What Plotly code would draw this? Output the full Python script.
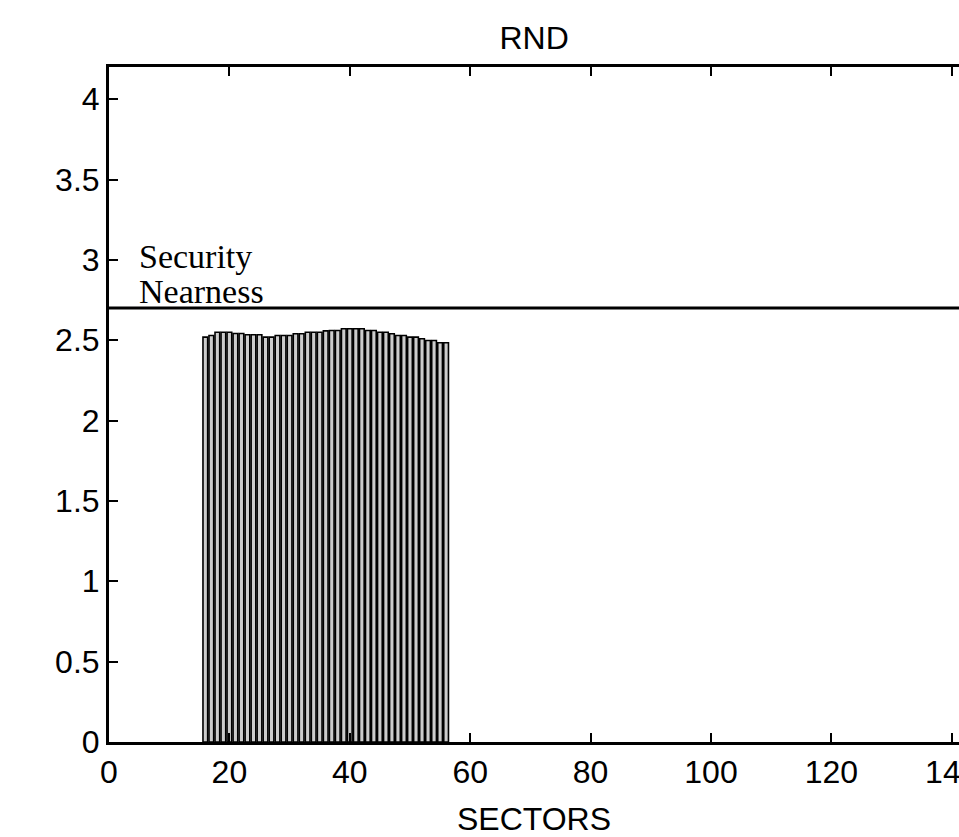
import plotly.graph_objects as go

sectors = list(range(16, 57))
nearness = [2.519, 2.529, 2.550, 2.550, 2.550, 2.542, 2.542, 2.534, 2.534, 2.534,
            2.519, 2.519, 2.529, 2.529, 2.529, 2.540, 2.540, 2.550, 2.550, 2.550,
            2.558, 2.560, 2.560, 2.571, 2.571, 2.571, 2.571, 2.560, 2.560, 2.550,
            2.550, 2.540, 2.529, 2.529, 2.519, 2.519, 2.509, 2.498, 2.498, 2.484,
            2.484]
security_level = 2.7
x_ticks = [0, 20, 40, 60, 80, 100, 120, 140]
y_ticks = [0, 0.5, 1, 1.5, 2, 2.5, 3, 3.5, 4]

fig = go.Figure()
fig.add_trace(go.Bar(
    x=sectors, y=nearness,
    marker=dict(color="#cccccc", line=dict(color="black", width=1.6)),
    width=0.78,
))

fig.add_shape(type="line", xref="x", yref="y", x0=0, x1=141.2,
              y0=security_level, y1=security_level,
              line=dict(color="black", width=3))

serif = "Liberation Serif, Times New Roman, serif"
fig.add_annotation(x=4.6, y=3.02, xref="x", yref="y", text="Security",
                   showarrow=False, xanchor="left", yanchor="middle",
                   font=dict(family=serif, size=34, color="black"))
fig.add_annotation(x=4.6, y=2.805, xref="x", yref="y", text="Nearness",
                   showarrow=False, xanchor="left", yanchor="middle",
                   font=dict(family=serif, size=34, color="black"))

sans = "Liberation Sans, Arial, Helvetica, sans-serif"
fig.update_layout(
    width=959, height=837,
    margin=dict(l=109, r=0, t=67, b=95, autoexpand=False),
    plot_bgcolor="white", paper_bgcolor="white",
    showlegend=False,
    bargap=0.2,
    title=dict(text="RND", x=0.557, xanchor="center", y=0.955, yanchor="middle",
               font=dict(family=sans, size=32, color="black")),
    font=dict(family=sans, size=32, color="black"),
)
fig.update_xaxes(range=[0, 141.2], tickvals=x_ticks, ticktext=[str(v) for v in x_ticks],
                 ticks="inside", ticklen=9, tickwidth=2, tickcolor="black",
                 showline=True, linecolor="black", linewidth=3, mirror="ticks",
                 showgrid=False, zeroline=False, ticklabeloverflow="allow",
                 automargin=False,
                 title=dict(text="SECTORS", font=dict(family=sans, size=32), standoff=20),
                 tickfont=dict(family=sans, size=32))
fig.update_yaxes(range=[0, 4.2], tickvals=y_ticks,
                 ticktext=["0", "0.5", "1", "1.5", "2", "2.5", "3", "3.5", "4"],
                 ticks="inside", ticklen=9, tickwidth=2, tickcolor="black",
                 showline=True, linecolor="black", linewidth=3, mirror=False,
                 showgrid=False, zeroline=False, automargin=False,
                 tickfont=dict(family=sans, size=32))

fig.write_html("out.html")
